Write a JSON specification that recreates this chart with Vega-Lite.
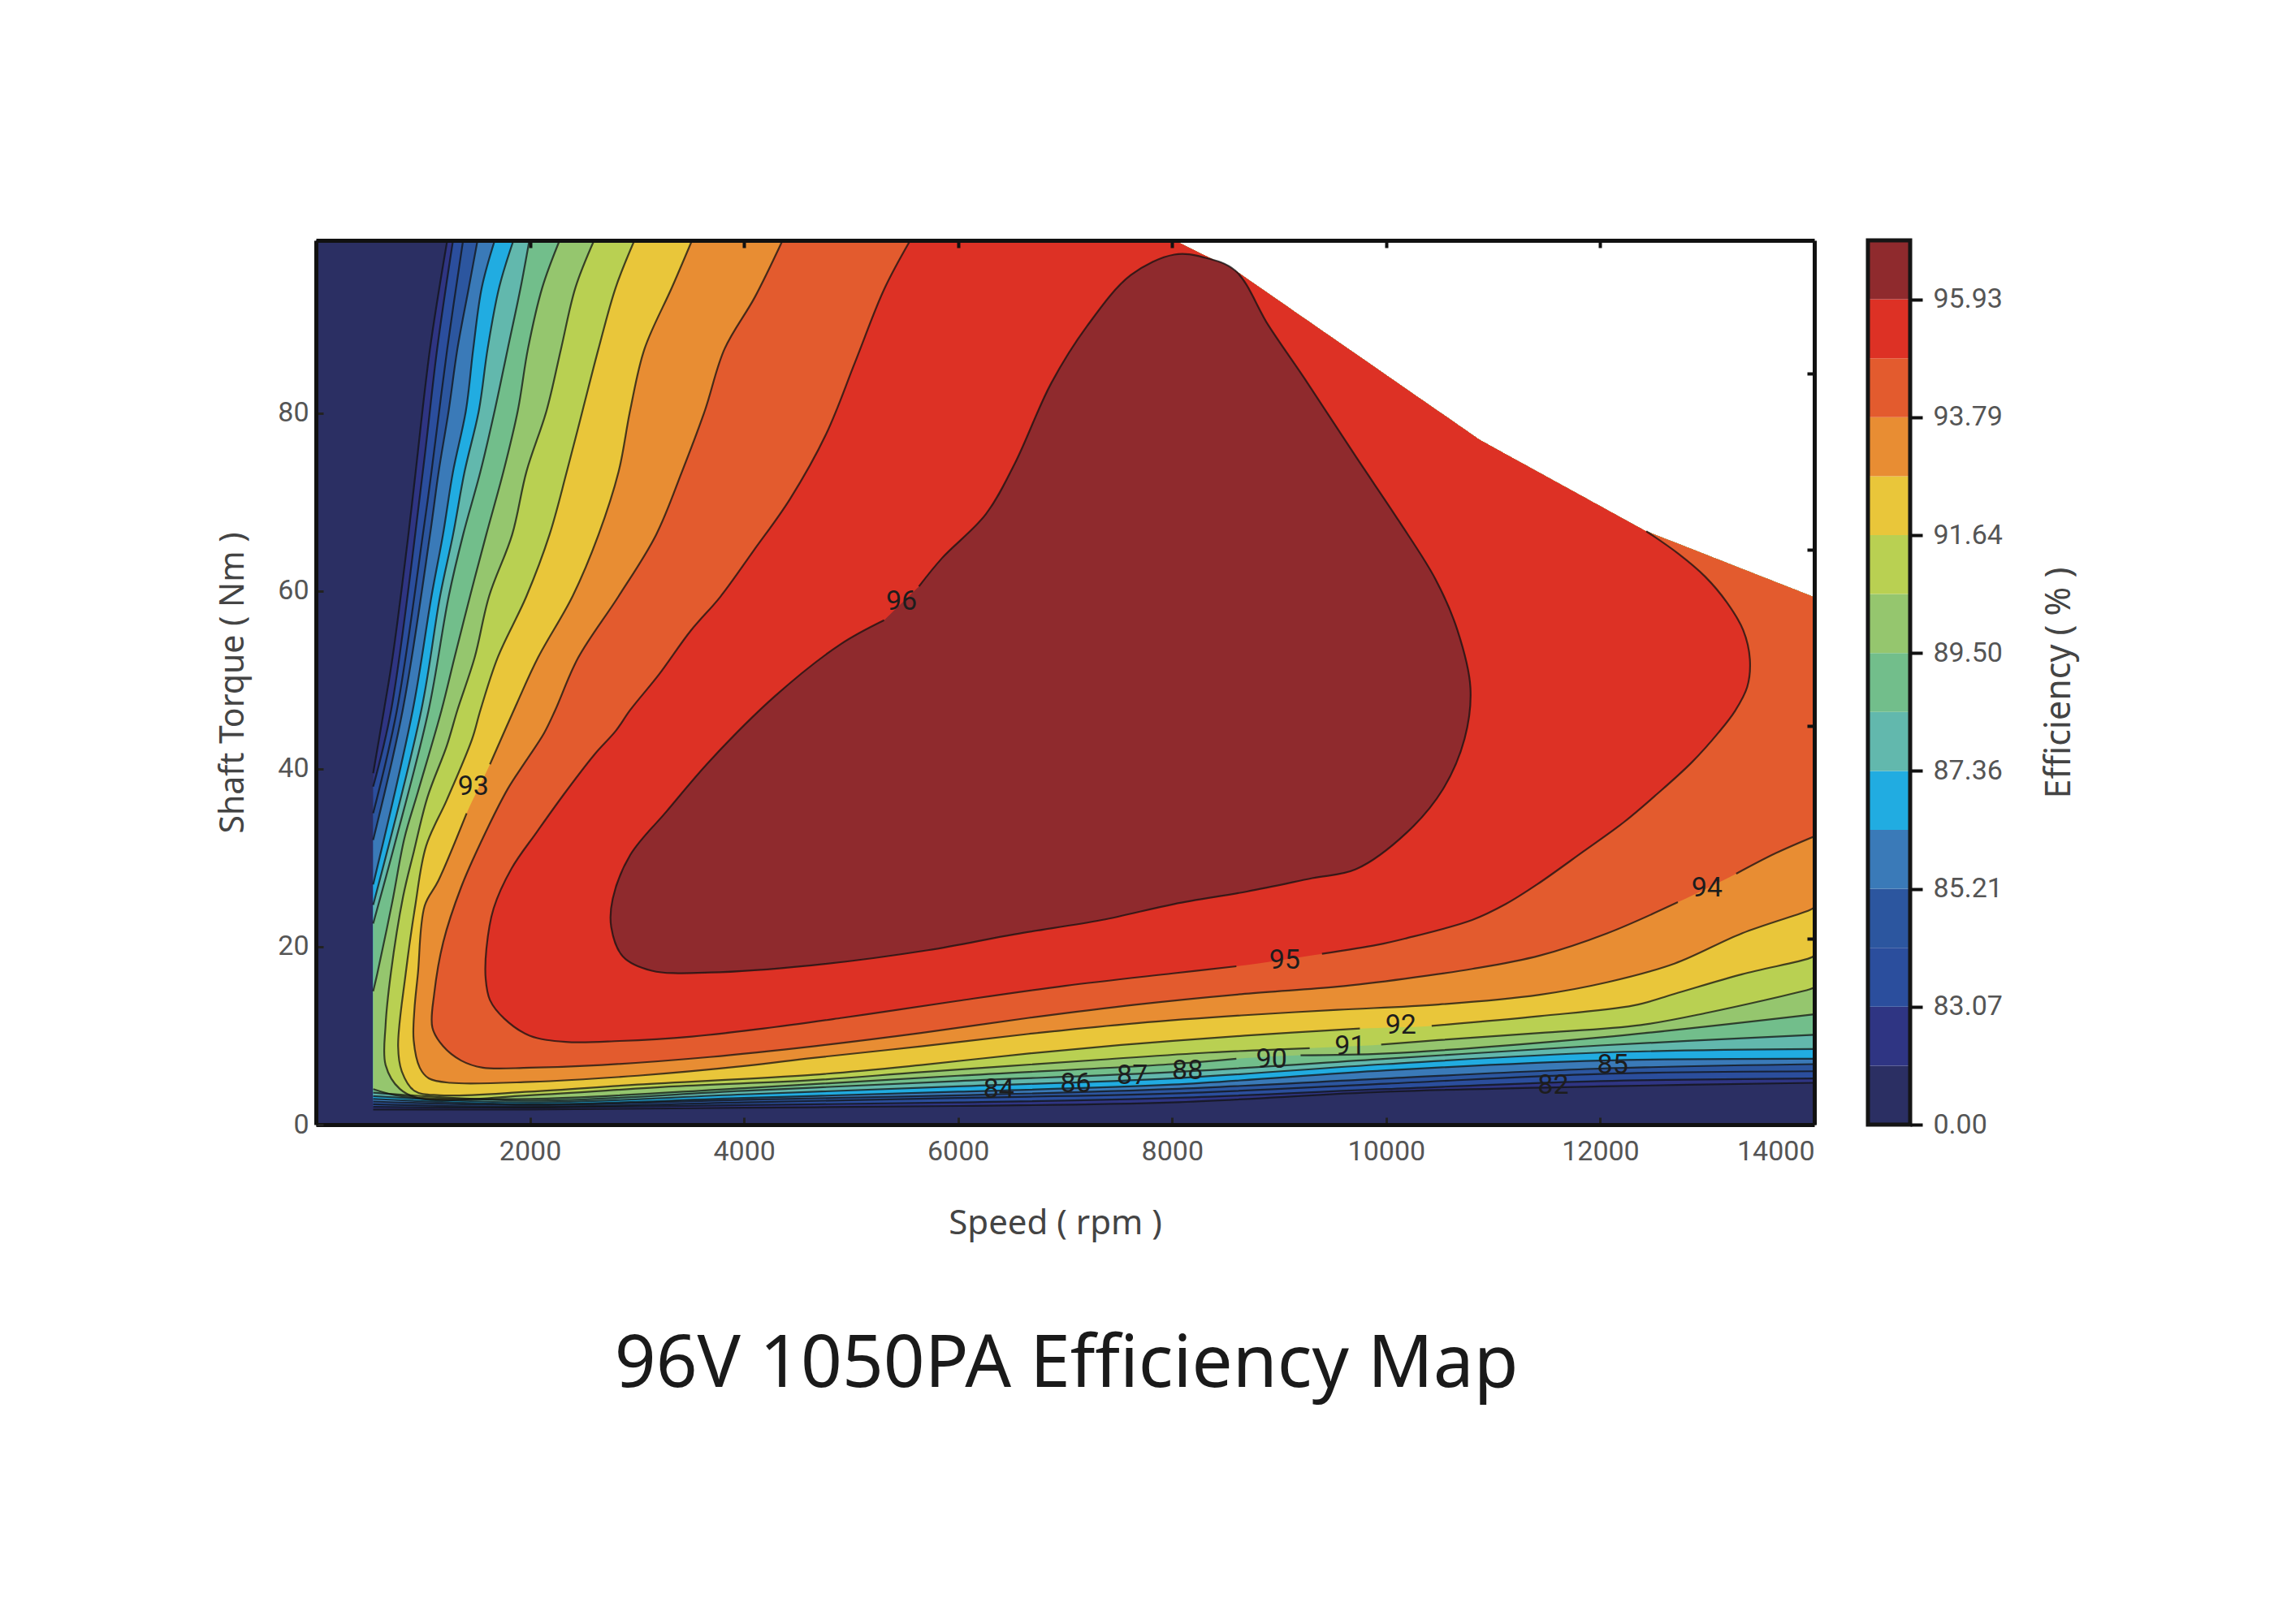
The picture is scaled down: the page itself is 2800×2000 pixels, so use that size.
{
  "$schema": "https://vega.github.io/schema/vega-lite/v6.json",
  "background": "white",
  "padding": {"left": 266, "top": 293, "right": 80, "bottom": 80},
  "config": {"view": {"stroke": null}},
  "title": {"text": "96V 1050PA Efficiency Map", "orient": "bottom", "anchor": "start", "dx": 490, "offset": 111, "font": "Noto Sans", "fontSize": 89, "fontWeight": "normal", "color": "#1a1a1a"},
  "datasets": {
    "contours": [
      {"level":80,"seg":"edge","n":1,"rpm":0,"nm":0},{"level":80,"seg":"edge","n":1.5,"rpm":0,"nm":0},{"level":80,"seg":"edge","n":2,"rpm":14000,"nm":0},{"level":80,"seg":"edge","n":2.5,"rpm":14000,"nm":0},{"level":80,"seg":"edge","n":3,"rpm":14000,"nm":59.3},{"level":80,"seg":"edge","n":3.5,"rpm":14000,"nm":59.3},{"level":80,"seg":"edge","n":4,"rpm":12430,"nm":66.7},{"level":80,"seg":"edge","n":4.5,"rpm":12430,"nm":66.7},{"level":80,"seg":"edge","n":5,"rpm":10870,"nm":77},{"level":80,"seg":"edge","n":5.5,"rpm":10870,"nm":77},{"level":80,"seg":"edge","n":6,"rpm":8590,"nm":96},{"level":80,"seg":"edge","n":6.5,"rpm":8590,"nm":96},{"level":80,"seg":"edge","n":7,"rpm":8020,"nm":99.4},{"level":80,"seg":"edge","n":7.5,"rpm":8020,"nm":99.4},{"level":80,"seg":"edge","n":8,"rpm":0,"nm":99.4},

      {"level":83,"seg":"a","n":1,"rpm":1227,"nm":99.4},{"level":83,"seg":"a","n":2,"rpm":1066,"nm":87.2},{"level":83,"seg":"a","n":3,"rpm":932,"nm":73.4},{"level":83,"seg":"a","n":4,"rpm":864,"nm":66.3},{"level":83,"seg":"a","n":5,"rpm":716,"nm":52.5},{"level":83,"seg":"a","n":6,"rpm":636,"nm":46.6},{"level":83,"seg":"a","n":7,"rpm":535,"nm":39.5},{"level":83,"seg":"a","n":7.5,"rpm":535,"nm":39.5},
      {"level":83,"seg":"b","n":8,"rpm":535,"nm":1.7},{"level":83,"seg":"b","n":8.5,"rpm":535,"nm":1.7},{"level":83,"seg":"b","n":9,"rpm":2000,"nm":1.7},{"level":83,"seg":"b","n":10,"rpm":4000,"nm":1.9},{"level":83,"seg":"b","n":11,"rpm":6000,"nm":2.1},{"level":83,"seg":"b","n":12,"rpm":8000,"nm":2.5},{"level":83,"seg":"b","n":13,"rpm":10000,"nm":3.7},{"level":83,"seg":"b","n":14,"rpm":12000,"nm":4.3},{"level":83,"seg":"b","n":15,"rpm":14000,"nm":4.7},{"level":83,"seg":"b","n":15.5,"rpm":14000,"nm":4.7},
      {"level":83,"seg":"edge","n":16,"rpm":14000,"nm":59.3},{"level":83,"seg":"edge","n":16.5,"rpm":14000,"nm":59.3},{"level":83,"seg":"edge","n":17,"rpm":12430,"nm":66.7},{"level":83,"seg":"edge","n":17.5,"rpm":12430,"nm":66.7},{"level":83,"seg":"edge","n":18,"rpm":10870,"nm":77},{"level":83,"seg":"edge","n":18.5,"rpm":10870,"nm":77},{"level":83,"seg":"edge","n":19,"rpm":8590,"nm":96},{"level":83,"seg":"edge","n":19.5,"rpm":8590,"nm":96},{"level":83,"seg":"edge","n":20,"rpm":8020,"nm":99.4},

      {"level":84,"seg":"a","n":1,"rpm":1281,"nm":99.4},{"level":84,"seg":"a","n":2,"rpm":1133,"nm":87.2},{"level":84,"seg":"a","n":3,"rpm":999,"nm":73.4},{"level":84,"seg":"a","n":4,"rpm":703,"nm":46.6},{"level":84,"seg":"a","n":5,"rpm":535,"nm":38},{"level":84,"seg":"a","n":5.5,"rpm":535,"nm":38},
      {"level":84,"seg":"b","n":6,"rpm":535,"nm":2},{"level":84,"seg":"b","n":6.5,"rpm":535,"nm":2},{"level":84,"seg":"b","n":7,"rpm":2000,"nm":1.9},{"level":84,"seg":"b","n":8,"rpm":4000,"nm":2.2},{"level":84,"seg":"b","n":9,"rpm":6000,"nm":2.5},{"level":84,"seg":"b","n":10,"rpm":8000,"nm":3},{"level":84,"seg":"b","n":11,"rpm":10000,"nm":4},{"level":84,"seg":"b","n":12,"rpm":12000,"nm":4.9},{"level":84,"seg":"b","n":13,"rpm":14000,"nm":5.2},{"level":84,"seg":"b","n":13.5,"rpm":14000,"nm":5.2},
      {"level":84,"seg":"edge","n":14,"rpm":14000,"nm":59.3},{"level":84,"seg":"edge","n":14.5,"rpm":14000,"nm":59.3},{"level":84,"seg":"edge","n":15,"rpm":12430,"nm":66.7},{"level":84,"seg":"edge","n":15.5,"rpm":12430,"nm":66.7},{"level":84,"seg":"edge","n":16,"rpm":10870,"nm":77},{"level":84,"seg":"edge","n":16.5,"rpm":10870,"nm":77},{"level":84,"seg":"edge","n":17,"rpm":8590,"nm":96},{"level":84,"seg":"edge","n":17.5,"rpm":8590,"nm":96},{"level":84,"seg":"edge","n":18,"rpm":8020,"nm":99.4},

      {"level":85,"seg":"a","n":1,"rpm":1375,"nm":99.4},{"level":85,"seg":"a","n":2,"rpm":1227,"nm":87.2},{"level":85,"seg":"a","n":3,"rpm":1080,"nm":73.4},{"level":85,"seg":"a","n":4,"rpm":999,"nm":66.3},{"level":85,"seg":"a","n":5,"rpm":757,"nm":46.6},{"level":85,"seg":"a","n":6,"rpm":535,"nm":35},{"level":85,"seg":"a","n":6.5,"rpm":535,"nm":35},
      {"level":85,"seg":"b","n":7,"rpm":535,"nm":2.3},{"level":85,"seg":"b","n":7.5,"rpm":535,"nm":2.3},{"level":85,"seg":"b","n":8,"rpm":2000,"nm":2},{"level":85,"seg":"b","n":9,"rpm":4000,"nm":2.5},{"level":85,"seg":"b","n":10,"rpm":6000,"nm":3},{"level":85,"seg":"b","n":11,"rpm":8000,"nm":3.5},{"level":85,"seg":"b","n":12,"rpm":10000,"nm":4.6},{"level":85,"seg":"b","n":13,"rpm":12000,"nm":5.7},{"level":85,"seg":"b","n":14,"rpm":14000,"nm":6},{"level":85,"seg":"b","n":14.5,"rpm":14000,"nm":6},
      {"level":85,"seg":"edge","n":15,"rpm":14000,"nm":59.3},{"level":85,"seg":"edge","n":15.5,"rpm":14000,"nm":59.3},{"level":85,"seg":"edge","n":16,"rpm":12430,"nm":66.7},{"level":85,"seg":"edge","n":16.5,"rpm":12430,"nm":66.7},{"level":85,"seg":"edge","n":17,"rpm":10870,"nm":77},{"level":85,"seg":"edge","n":17.5,"rpm":10870,"nm":77},{"level":85,"seg":"edge","n":18,"rpm":8590,"nm":96},{"level":85,"seg":"edge","n":18.5,"rpm":8590,"nm":96},{"level":85,"seg":"edge","n":19,"rpm":8020,"nm":99.4},

      {"level":86,"seg":"a","n":1,"rpm":1510,"nm":99.4},{"level":86,"seg":"a","n":2,"rpm":1429,"nm":94.1},{"level":86,"seg":"a","n":3,"rpm":1322,"nm":87.2},{"level":86,"seg":"a","n":4,"rpm":1241,"nm":80.3},{"level":86,"seg":"a","n":5,"rpm":1147,"nm":73.4},{"level":86,"seg":"a","n":6,"rpm":1066,"nm":66.3},{"level":86,"seg":"a","n":7,"rpm":811,"nm":46.6},{"level":86,"seg":"a","n":8,"rpm":535,"nm":32},{"level":86,"seg":"a","n":8.5,"rpm":535,"nm":32},
      {"level":86,"seg":"b","n":9,"rpm":535,"nm":2.6},{"level":86,"seg":"b","n":9.5,"rpm":535,"nm":2.6},{"level":86,"seg":"b","n":10,"rpm":2000,"nm":2.2},{"level":86,"seg":"b","n":11,"rpm":4000,"nm":2.8},{"level":86,"seg":"b","n":12,"rpm":6000,"nm":3.3},{"level":86,"seg":"b","n":13,"rpm":8000,"nm":4},{"level":86,"seg":"b","n":14,"rpm":10000,"nm":5.2},{"level":86,"seg":"b","n":15,"rpm":12000,"nm":6.3},{"level":86,"seg":"b","n":16,"rpm":14000,"nm":6.8},{"level":86,"seg":"b","n":16.5,"rpm":14000,"nm":6.8},
      {"level":86,"seg":"edge","n":17,"rpm":14000,"nm":59.3},{"level":86,"seg":"edge","n":17.5,"rpm":14000,"nm":59.3},{"level":86,"seg":"edge","n":18,"rpm":12430,"nm":66.7},{"level":86,"seg":"edge","n":18.5,"rpm":12430,"nm":66.7},{"level":86,"seg":"edge","n":19,"rpm":10870,"nm":77},{"level":86,"seg":"edge","n":19.5,"rpm":10870,"nm":77},{"level":86,"seg":"edge","n":20,"rpm":8590,"nm":96},{"level":86,"seg":"edge","n":20.5,"rpm":8590,"nm":96},{"level":86,"seg":"edge","n":21,"rpm":8020,"nm":99.4},

      {"level":87,"seg":"a","n":1,"rpm":1671,"nm":99.4},{"level":87,"seg":"a","n":2,"rpm":1550,"nm":94.1},{"level":87,"seg":"a","n":3,"rpm":1470,"nm":87.2},{"level":87,"seg":"a","n":4,"rpm":1402,"nm":80.3},{"level":87,"seg":"a","n":5,"rpm":1281,"nm":73.4},{"level":87,"seg":"a","n":6,"rpm":1187,"nm":66.3},{"level":87,"seg":"a","n":7,"rpm":1080,"nm":59.4},{"level":87,"seg":"a","n":8,"rpm":905,"nm":46.6},{"level":87,"seg":"a","n":9,"rpm":535,"nm":27},{"level":87,"seg":"a","n":9.5,"rpm":535,"nm":27},
      {"level":87,"seg":"b","n":10,"rpm":535,"nm":2.9},{"level":87,"seg":"b","n":10.5,"rpm":535,"nm":2.9},{"level":87,"seg":"b","n":11,"rpm":2000,"nm":2.3},{"level":87,"seg":"b","n":12,"rpm":4000,"nm":3},{"level":87,"seg":"b","n":13,"rpm":6000,"nm":3.7},{"level":87,"seg":"b","n":14,"rpm":8000,"nm":4.5},{"level":87,"seg":"b","n":15,"rpm":10000,"nm":6.1},{"level":87,"seg":"b","n":16,"rpm":12000,"nm":7.2},{"level":87,"seg":"b","n":17,"rpm":14000,"nm":7.4},{"level":87,"seg":"b","n":17.5,"rpm":14000,"nm":7.4},
      {"level":87,"seg":"edge","n":18,"rpm":14000,"nm":59.3},{"level":87,"seg":"edge","n":18.5,"rpm":14000,"nm":59.3},{"level":87,"seg":"edge","n":19,"rpm":12430,"nm":66.7},{"level":87,"seg":"edge","n":19.5,"rpm":12430,"nm":66.7},{"level":87,"seg":"edge","n":20,"rpm":10870,"nm":77},{"level":87,"seg":"edge","n":20.5,"rpm":10870,"nm":77},{"level":87,"seg":"edge","n":21,"rpm":8590,"nm":96},{"level":87,"seg":"edge","n":21.5,"rpm":8590,"nm":96},{"level":87,"seg":"edge","n":22,"rpm":8020,"nm":99.4},

      {"level":88,"seg":"a","n":1,"rpm":1846,"nm":99.4},{"level":88,"seg":"a","n":2,"rpm":1712,"nm":94.1},{"level":88,"seg":"a","n":3,"rpm":1604,"nm":87.2},{"level":88,"seg":"a","n":4,"rpm":1523,"nm":80.3},{"level":88,"seg":"a","n":5,"rpm":1389,"nm":73.4},{"level":88,"seg":"a","n":6,"rpm":1281,"nm":66.3},{"level":88,"seg":"a","n":7,"rpm":1160,"nm":59.4},{"level":88,"seg":"a","n":8,"rpm":985,"nm":46.6},{"level":88,"seg":"a","n":9,"rpm":535,"nm":24.7},{"level":88,"seg":"a","n":9.5,"rpm":535,"nm":24.7},
      {"level":88,"seg":"b","n":10,"rpm":535,"nm":3.2},{"level":88,"seg":"b","n":10.5,"rpm":535,"nm":3.2},{"level":88,"seg":"b","n":11,"rpm":2000,"nm":2.5},{"level":88,"seg":"b","n":12,"rpm":4000,"nm":3.4},{"level":88,"seg":"b","n":13,"rpm":6000,"nm":4.3},{"level":88,"seg":"b","n":14,"rpm":8000,"nm":5.2},{"level":88,"seg":"b","n":15,"rpm":10000,"nm":6.8},{"level":88,"seg":"b","n":16,"rpm":12000,"nm":8.1},{"level":88,"seg":"b","n":17,"rpm":14000,"nm":8.5},{"level":88,"seg":"b","n":17.5,"rpm":14000,"nm":8.5},
      {"level":88,"seg":"edge","n":18,"rpm":14000,"nm":59.3},{"level":88,"seg":"edge","n":18.5,"rpm":14000,"nm":59.3},{"level":88,"seg":"edge","n":19,"rpm":12430,"nm":66.7},{"level":88,"seg":"edge","n":19.5,"rpm":12430,"nm":66.7},{"level":88,"seg":"edge","n":20,"rpm":10870,"nm":77},{"level":88,"seg":"edge","n":20.5,"rpm":10870,"nm":77},{"level":88,"seg":"edge","n":21,"rpm":8590,"nm":96},{"level":88,"seg":"edge","n":21.5,"rpm":8590,"nm":96},{"level":88,"seg":"edge","n":22,"rpm":8020,"nm":99.4},

      {"level":89,"seg":"a","n":1,"rpm":1994,"nm":99.4},{"level":89,"seg":"a","n":2,"rpm":1913,"nm":94.1},{"level":89,"seg":"a","n":3,"rpm":1792,"nm":87.2},{"level":89,"seg":"a","n":4,"rpm":1671,"nm":80.3},{"level":89,"seg":"a","n":5,"rpm":1537,"nm":73.4},{"level":89,"seg":"a","n":6,"rpm":1375,"nm":66.3},{"level":89,"seg":"a","n":7,"rpm":1241,"nm":59.4},{"level":89,"seg":"a","n":8,"rpm":1053,"nm":46.6},{"level":89,"seg":"a","n":8.3,"rpm":738,"nm":31.6},{"level":89,"seg":"a","n":9,"rpm":535,"nm":22.6},{"level":89,"seg":"a","n":9.5,"rpm":535,"nm":22.6},
      {"level":89,"seg":"b","n":10,"rpm":535,"nm":3.6},{"level":89,"seg":"b","n":10.5,"rpm":535,"nm":3.6},{"level":89,"seg":"b","n":11,"rpm":2000,"nm":2.7},{"level":89,"seg":"b","n":12,"rpm":4000,"nm":3.8},{"level":89,"seg":"b","n":13,"rpm":6000,"nm":4.9},{"level":89,"seg":"b","n":14,"rpm":8000,"nm":5.9},{"level":89,"seg":"b","n":15,"rpm":10000,"nm":7.4},{"level":89,"seg":"b","n":16,"rpm":12000,"nm":8.9},{"level":89,"seg":"b","n":17,"rpm":14000,"nm":10.1},{"level":89,"seg":"b","n":17.5,"rpm":14000,"nm":10.1},
      {"level":89,"seg":"edge","n":18,"rpm":14000,"nm":59.3},{"level":89,"seg":"edge","n":18.5,"rpm":14000,"nm":59.3},{"level":89,"seg":"edge","n":19,"rpm":12430,"nm":66.7},{"level":89,"seg":"edge","n":19.5,"rpm":12430,"nm":66.7},{"level":89,"seg":"edge","n":20,"rpm":10870,"nm":77},{"level":89,"seg":"edge","n":20.5,"rpm":10870,"nm":77},{"level":89,"seg":"edge","n":21,"rpm":8590,"nm":96},{"level":89,"seg":"edge","n":21.5,"rpm":8590,"nm":96},{"level":89,"seg":"edge","n":22,"rpm":8020,"nm":99.4},

      {"level":90,"seg":"a","n":1,"rpm":2277,"nm":99.4},{"level":90,"seg":"a","n":2,"rpm":2115,"nm":94.1},{"level":90,"seg":"a","n":3,"rpm":1981,"nm":87.2},{"level":90,"seg":"a","n":4,"rpm":1887,"nm":80.3},{"level":90,"seg":"a","n":5,"rpm":1752,"nm":73.4},{"level":90,"seg":"a","n":6,"rpm":1591,"nm":66.3},{"level":90,"seg":"a","n":7,"rpm":1440,"nm":59.4},{"level":90,"seg":"a","n":8,"rpm":1295,"nm":52.5},{"level":90,"seg":"a","n":9,"rpm":1174,"nm":46.6},{"level":90,"seg":"a","n":9.2,"rpm":953,"nm":37.4},{"level":90,"seg":"a","n":9.4,"rpm":827,"nm":32.2},{"level":90,"seg":"a","n":9.6,"rpm":713,"nm":25},{"level":90,"seg":"a","n":10,"rpm":574,"nm":17},{"level":90,"seg":"a","n":11,"rpm":535,"nm":15},{"level":90,"seg":"a","n":11.5,"rpm":535,"nm":15},
      {"level":90,"seg":"b","n":12,"rpm":535,"nm":4},{"level":90,"seg":"b","n":12.5,"rpm":535,"nm":4},{"level":90,"seg":"b","n":13,"rpm":800,"nm":3.2},{"level":90,"seg":"b","n":14,"rpm":2000,"nm":2.9},{"level":90,"seg":"b","n":15,"rpm":4000,"nm":4.1},{"level":90,"seg":"b","n":16,"rpm":6000,"nm":5.5},{"level":90,"seg":"b","n":17,"rpm":8000,"nm":6.8},{"level":90,"seg":"b","n":18,"rpm":8600,"nm":7.4},
      {"level":90,"seg":"c","n":19,"rpm":9200,"nm":7.8},{"level":90,"seg":"c","n":20,"rpm":10000,"nm":8},{"level":90,"seg":"c","n":21,"rpm":12000,"nm":9.8},{"level":90,"seg":"c","n":22,"rpm":14000,"nm":12.4},{"level":90,"seg":"c","n":22.5,"rpm":14000,"nm":12.4},
      {"level":90,"seg":"edge","n":23,"rpm":14000,"nm":59.3},{"level":90,"seg":"edge","n":23.5,"rpm":14000,"nm":59.3},{"level":90,"seg":"edge","n":24,"rpm":12430,"nm":66.7},{"level":90,"seg":"edge","n":24.5,"rpm":12430,"nm":66.7},{"level":90,"seg":"edge","n":25,"rpm":10870,"nm":77},{"level":90,"seg":"edge","n":25.5,"rpm":10870,"nm":77},{"level":90,"seg":"edge","n":26,"rpm":8590,"nm":96},{"level":90,"seg":"edge","n":26.5,"rpm":8590,"nm":96},{"level":90,"seg":"edge","n":27,"rpm":8020,"nm":99.4},

      {"level":91,"seg":"a","n":1,"rpm":2599,"nm":99.4},{"level":91,"seg":"a","n":2,"rpm":2425,"nm":94.1},{"level":91,"seg":"a","n":3,"rpm":2290,"nm":87.2},{"level":91,"seg":"a","n":4,"rpm":2156,"nm":80.3},{"level":91,"seg":"a","n":5,"rpm":1967,"nm":73.4},{"level":91,"seg":"a","n":6,"rpm":1833,"nm":66.3},{"level":91,"seg":"a","n":7,"rpm":1618,"nm":59.4},{"level":91,"seg":"a","n":8,"rpm":1483,"nm":52.5},{"level":91,"seg":"a","n":9,"rpm":1322,"nm":46.6},{"level":91,"seg":"a","n":10,"rpm":1223,"nm":42.6},{"level":91,"seg":"a","n":11,"rpm":1042,"nm":36.8},{"level":91,"seg":"a","n":12,"rpm":915,"nm":30.7},{"level":91,"seg":"a","n":12.5,"rpm":814,"nm":25.6},{"level":91,"seg":"a","n":13,"rpm":700,"nm":17},{"level":91,"seg":"a","n":14,"rpm":651,"nm":11.2},{"level":91,"seg":"a","n":15,"rpm":651,"nm":6.7},{"level":91,"seg":"a","n":16,"rpm":785,"nm":4},{"level":91,"seg":"a","n":17,"rpm":987,"nm":2.9},{"level":91,"seg":"a","n":18,"rpm":1997,"nm":3.3},{"level":91,"seg":"a","n":19,"rpm":3343,"nm":4.3},{"level":91,"seg":"a","n":20,"rpm":4646,"nm":5},{"level":91,"seg":"a","n":21,"rpm":5654,"nm":5.9},{"level":91,"seg":"a","n":22,"rpm":7334,"nm":7.3},{"level":91,"seg":"a","n":23,"rpm":8343,"nm":8.1},{"level":91,"seg":"a","n":24,"rpm":9285,"nm":8.6},
      {"level":91,"seg":"b","n":25,"rpm":9953,"nm":9},{"level":91,"seg":"b","n":26,"rpm":10488,"nm":9.5},{"level":91,"seg":"b","n":27,"rpm":11433,"nm":10.3},{"level":91,"seg":"b","n":28,"rpm":12378,"nm":11.2},{"level":91,"seg":"b","n":29,"rpm":13008,"nm":12.6},{"level":91,"seg":"b","n":30,"rpm":13953,"nm":15.2},{"level":91,"seg":"b","n":31,"rpm":14000,"nm":15.4},{"level":91,"seg":"b","n":31.5,"rpm":14000,"nm":15.4},
      {"level":91,"seg":"edge","n":32,"rpm":14000,"nm":59.3},{"level":91,"seg":"edge","n":32.5,"rpm":14000,"nm":59.3},{"level":91,"seg":"edge","n":33,"rpm":12430,"nm":66.7},{"level":91,"seg":"edge","n":33.5,"rpm":12430,"nm":66.7},{"level":91,"seg":"edge","n":34,"rpm":10870,"nm":77},{"level":91,"seg":"edge","n":34.5,"rpm":10870,"nm":77},{"level":91,"seg":"edge","n":35,"rpm":8590,"nm":96},{"level":91,"seg":"edge","n":35.5,"rpm":8590,"nm":96},{"level":91,"seg":"edge","n":36,"rpm":8020,"nm":99.4},

      {"level":92,"seg":"a","n":1,"rpm":2976,"nm":99.4},{"level":92,"seg":"a","n":2,"rpm":2801,"nm":94.1},{"level":92,"seg":"a","n":3,"rpm":2640,"nm":87.2},{"level":92,"seg":"a","n":4,"rpm":2492,"nm":80.3},{"level":92,"seg":"a","n":5,"rpm":2344,"nm":73.4},{"level":92,"seg":"a","n":6,"rpm":2182,"nm":66.3},{"level":92,"seg":"a","n":7,"rpm":1967,"nm":59.4},{"level":92,"seg":"a","n":8,"rpm":1698,"nm":52.5},{"level":92,"seg":"a","n":9,"rpm":1537,"nm":46.6},{"level":92,"seg":"a","n":10,"rpm":1458,"nm":43.3},{"level":92,"seg":"a","n":11,"rpm":1223,"nm":36.5},{"level":92,"seg":"a","n":12,"rpm":1029,"nm":31.3},{"level":92,"seg":"a","n":13,"rpm":928,"nm":24.6},{"level":92,"seg":"a","n":14,"rpm":839,"nm":17},{"level":92,"seg":"a","n":15,"rpm":768,"nm":8.8},{"level":92,"seg":"a","n":16,"rpm":802,"nm":6},{"level":92,"seg":"a","n":17,"rpm":920,"nm":3.8},{"level":92,"seg":"a","n":18,"rpm":1155,"nm":3.3},{"level":92,"seg":"a","n":19,"rpm":1997,"nm":3.7},{"level":92,"seg":"a","n":20,"rpm":3006,"nm":4.5},{"level":92,"seg":"a","n":21,"rpm":4646,"nm":5.6},{"level":92,"seg":"a","n":22,"rpm":5654,"nm":6.7},{"level":92,"seg":"a","n":23,"rpm":6662,"nm":8},{"level":92,"seg":"a","n":24,"rpm":7670,"nm":9.1},{"level":92,"seg":"a","n":25,"rpm":8679,"nm":10},{"level":92,"seg":"a","n":26,"rpm":9754,"nm":10.8},
      {"level":92,"seg":"b","n":27,"rpm":10425,"nm":11.1},{"level":92,"seg":"b","n":28,"rpm":11433,"nm":12.2},{"level":92,"seg":"b","n":29,"rpm":12315,"nm":13.4},{"level":92,"seg":"b","n":30,"rpm":12693,"nm":14.7},{"level":92,"seg":"b","n":31,"rpm":13323,"nm":16.9},{"level":92,"seg":"b","n":32,"rpm":13953,"nm":18.7},{"level":92,"seg":"b","n":33,"rpm":14000,"nm":19},{"level":92,"seg":"b","n":33.5,"rpm":14000,"nm":19},
      {"level":92,"seg":"edge","n":34,"rpm":14000,"nm":59.3},{"level":92,"seg":"edge","n":34.5,"rpm":14000,"nm":59.3},{"level":92,"seg":"edge","n":35,"rpm":12430,"nm":66.7},{"level":92,"seg":"edge","n":35.5,"rpm":12430,"nm":66.7},{"level":92,"seg":"edge","n":36,"rpm":10870,"nm":77},{"level":92,"seg":"edge","n":36.5,"rpm":10870,"nm":77},{"level":92,"seg":"edge","n":37,"rpm":8590,"nm":96},{"level":92,"seg":"edge","n":37.5,"rpm":8590,"nm":96},{"level":92,"seg":"edge","n":38,"rpm":8020,"nm":99.4},

      {"level":93,"seg":"a","n":1,"rpm":3514,"nm":99.4},{"level":93,"seg":"a","n":2,"rpm":3326,"nm":94.1},{"level":93,"seg":"a","n":3,"rpm":3070,"nm":87.2},{"level":93,"seg":"a","n":4,"rpm":2936,"nm":80.3},{"level":93,"seg":"a","n":5,"rpm":2828,"nm":73.4},{"level":93,"seg":"a","n":6,"rpm":2640,"nm":66.3},{"level":93,"seg":"a","n":7,"rpm":2398,"nm":59.4},{"level":93,"seg":"a","n":8,"rpm":2075,"nm":52.5},{"level":93,"seg":"a","n":9,"rpm":1879,"nm":47.4},{"level":93,"seg":"a","n":10,"rpm":1626,"nm":40.5},
      {"level":93,"seg":"b","n":11,"rpm":1408,"nm":35},{"level":93,"seg":"b","n":12,"rpm":1143,"nm":27.4},{"level":93,"seg":"b","n":13,"rpm":1016,"nm":24.6},{"level":93,"seg":"b","n":14,"rpm":953,"nm":17},{"level":93,"seg":"b","n":15,"rpm":920,"nm":12.9},{"level":93,"seg":"b","n":16,"rpm":913,"nm":9.5},{"level":93,"seg":"b","n":17,"rpm":970,"nm":6.4},{"level":93,"seg":"b","n":18,"rpm":1054,"nm":5.2},{"level":93,"seg":"b","n":19,"rpm":1256,"nm":4.7},{"level":93,"seg":"b","n":20,"rpm":1997,"nm":4.8},{"level":93,"seg":"b","n":21,"rpm":3006,"nm":5.5},{"level":93,"seg":"b","n":22,"rpm":4015,"nm":6.6},{"level":93,"seg":"b","n":23,"rpm":4646,"nm":7.5},{"level":93,"seg":"b","n":24,"rpm":5654,"nm":8.8},{"level":93,"seg":"b","n":25,"rpm":6662,"nm":10.2},{"level":93,"seg":"b","n":26,"rpm":7670,"nm":11.4},{"level":93,"seg":"b","n":27,"rpm":8679,"nm":12.3},{"level":93,"seg":"b","n":28,"rpm":9543,"nm":12.9},{"level":93,"seg":"b","n":29,"rpm":10488,"nm":13.5},{"level":93,"seg":"b","n":30,"rpm":11433,"nm":14.6},{"level":93,"seg":"b","n":31,"rpm":12063,"nm":16},{"level":93,"seg":"b","n":32,"rpm":12693,"nm":18.1},{"level":93,"seg":"b","n":33,"rpm":13323,"nm":21.5},{"level":93,"seg":"b","n":34,"rpm":13953,"nm":24.1},{"level":93,"seg":"b","n":35,"rpm":14000,"nm":24.4},{"level":93,"seg":"b","n":35.5,"rpm":14000,"nm":24.4},
      {"level":93,"seg":"edge","n":36,"rpm":14000,"nm":59.3},{"level":93,"seg":"edge","n":36.5,"rpm":14000,"nm":59.3},{"level":93,"seg":"edge","n":37,"rpm":12430,"nm":66.7},{"level":93,"seg":"edge","n":37.5,"rpm":12430,"nm":66.7},{"level":93,"seg":"edge","n":38,"rpm":10870,"nm":77},{"level":93,"seg":"edge","n":38.5,"rpm":10870,"nm":77},{"level":93,"seg":"edge","n":39,"rpm":8590,"nm":96},{"level":93,"seg":"edge","n":39.5,"rpm":8590,"nm":96},{"level":93,"seg":"edge","n":40,"rpm":8020,"nm":99.4},

      {"level":94,"seg":"a","n":1,"rpm":4360,"nm":99.4},{"level":94,"seg":"a","n":2,"rpm":4100,"nm":93},{"level":94,"seg":"a","n":3,"rpm":3818,"nm":87.2},{"level":94,"seg":"a","n":4,"rpm":3635,"nm":80.3},{"level":94,"seg":"a","n":5,"rpm":3420,"nm":73.4},{"level":94,"seg":"a","n":6,"rpm":3178,"nm":66.3},{"level":94,"seg":"a","n":7,"rpm":2828,"nm":59.4},{"level":94,"seg":"a","n":8,"rpm":2451,"nm":52.5},{"level":94,"seg":"a","n":9,"rpm":2236,"nm":46.6},{"level":94,"seg":"a","n":10,"rpm":2131,"nm":44},{"level":94,"seg":"a","n":11,"rpm":1963,"nm":40.9},{"level":94,"seg":"a","n":12,"rpm":1795,"nm":37.8},{"level":94,"seg":"a","n":13,"rpm":1559,"nm":32.2},{"level":94,"seg":"a","n":14,"rpm":1357,"nm":26.7},{"level":94,"seg":"a","n":15,"rpm":1189,"nm":20.5},{"level":94,"seg":"a","n":16,"rpm":1105,"nm":14.7},{"level":94,"seg":"a","n":17,"rpm":1088,"nm":10.9},{"level":94,"seg":"a","n":18,"rpm":1189,"nm":8.8},{"level":94,"seg":"a","n":19,"rpm":1357,"nm":7.2},{"level":94,"seg":"a","n":20,"rpm":1559,"nm":6.4},{"level":94,"seg":"a","n":21,"rpm":1997,"nm":6.4},{"level":94,"seg":"a","n":22,"rpm":2670,"nm":6.7},{"level":94,"seg":"a","n":23,"rpm":3679,"nm":7.6},{"level":94,"seg":"a","n":24,"rpm":4646,"nm":8.8},{"level":94,"seg":"a","n":25,"rpm":5654,"nm":10.3},{"level":94,"seg":"a","n":26,"rpm":6662,"nm":12},{"level":94,"seg":"a","n":27,"rpm":7670,"nm":13.5},{"level":94,"seg":"a","n":28,"rpm":8679,"nm":14.7},{"level":94,"seg":"a","n":29,"rpm":9543,"nm":15.5},{"level":94,"seg":"a","n":30,"rpm":10173,"nm":16.4},{"level":94,"seg":"a","n":31,"rpm":10803,"nm":17.5},{"level":94,"seg":"a","n":32,"rpm":11433,"nm":19},{"level":94,"seg":"a","n":33,"rpm":12063,"nm":21.5},{"level":94,"seg":"a","n":34,"rpm":12725,"nm":25},
      {"level":94,"seg":"b","n":35,"rpm":13270,"nm":28.2},{"level":94,"seg":"b","n":36,"rpm":13638,"nm":30.5},{"level":94,"seg":"b","n":37,"rpm":14000,"nm":32.4},{"level":94,"seg":"b","n":37.5,"rpm":14000,"nm":32.4},
      {"level":94,"seg":"edge","n":38,"rpm":14000,"nm":59.3},{"level":94,"seg":"edge","n":38.5,"rpm":14000,"nm":59.3},{"level":94,"seg":"edge","n":39,"rpm":12430,"nm":66.7},{"level":94,"seg":"edge","n":39.5,"rpm":12430,"nm":66.7},{"level":94,"seg":"edge","n":40,"rpm":10870,"nm":77},{"level":94,"seg":"edge","n":40.5,"rpm":10870,"nm":77},{"level":94,"seg":"edge","n":41,"rpm":8590,"nm":96},{"level":94,"seg":"edge","n":41.5,"rpm":8590,"nm":96},{"level":94,"seg":"edge","n":42,"rpm":8020,"nm":99.4},

      {"level":95,"seg":"a","n":1,"rpm":5553,"nm":99.4},{"level":95,"seg":"a","n":2,"rpm":5309,"nm":93.9},{"level":95,"seg":"a","n":3,"rpm":5037,"nm":85.7},{"level":95,"seg":"a","n":4,"rpm":4766,"nm":77.6},{"level":95,"seg":"a","n":5,"rpm":4428,"nm":70.3},{"level":95,"seg":"a","n":6,"rpm":4088,"nm":64.5},{"level":95,"seg":"a","n":7,"rpm":3776,"nm":59.3},{"level":95,"seg":"a","n":8,"rpm":3500,"nm":55.5},{"level":95,"seg":"a","n":9,"rpm":3205,"nm":50.6},{"level":95,"seg":"a","n":10,"rpm":2936,"nm":46.6},{"level":95,"seg":"a","n":11,"rpm":2804,"nm":44.3},{"level":95,"seg":"a","n":12,"rpm":2602,"nm":41.6},{"level":95,"seg":"a","n":13,"rpm":2333,"nm":37.4},{"level":95,"seg":"a","n":14,"rpm":2064,"nm":32.9},{"level":95,"seg":"a","n":15,"rpm":1828,"nm":28.8},{"level":95,"seg":"a","n":16,"rpm":1660,"nm":24.3},{"level":95,"seg":"a","n":17,"rpm":1593,"nm":19.8},{"level":95,"seg":"a","n":18,"rpm":1586,"nm":16.4},{"level":95,"seg":"a","n":19,"rpm":1626,"nm":14},{"level":95,"seg":"a","n":20,"rpm":1761,"nm":11.9},{"level":95,"seg":"a","n":21,"rpm":1997,"nm":10},{"level":95,"seg":"a","n":22,"rpm":2333,"nm":9.3},{"level":95,"seg":"a","n":23,"rpm":2838,"nm":9.4},{"level":95,"seg":"a","n":24,"rpm":3511,"nm":9.9},{"level":95,"seg":"a","n":25,"rpm":4184,"nm":10.8},{"level":95,"seg":"a","n":26,"rpm":4917,"nm":12},{"level":95,"seg":"a","n":27,"rpm":5318,"nm":12.7},{"level":95,"seg":"a","n":28,"rpm":5990,"nm":13.9},{"level":95,"seg":"a","n":29,"rpm":6998,"nm":15.6},{"level":95,"seg":"a","n":30,"rpm":8007,"nm":17},{"level":95,"seg":"a","n":31,"rpm":8600,"nm":17.8},
      {"level":95,"seg":"b","n":32,"rpm":9400,"nm":19.2},{"level":95,"seg":"b","n":33,"rpm":9916,"nm":20.2},{"level":95,"seg":"b","n":34,"rpm":10173,"nm":20.9},{"level":95,"seg":"b","n":35,"rpm":10803,"nm":23},{"level":95,"seg":"b","n":36,"rpm":11118,"nm":24.8},{"level":95,"seg":"b","n":37,"rpm":11410,"nm":27},{"level":95,"seg":"b","n":38,"rpm":11842,"nm":30.7},{"level":95,"seg":"b","n":39,"rpm":12221,"nm":34},{"level":95,"seg":"b","n":40,"rpm":12525,"nm":37.1},{"level":95,"seg":"b","n":41,"rpm":12853,"nm":40.7},{"level":95,"seg":"b","n":42,"rpm":13107,"nm":44.1},{"level":95,"seg":"b","n":43,"rpm":13259,"nm":46.5},{"level":95,"seg":"b","n":44,"rpm":13373,"nm":49.2},{"level":95,"seg":"b","n":45,"rpm":13398,"nm":52.3},{"level":95,"seg":"b","n":46,"rpm":13335,"nm":55.6},{"level":95,"seg":"b","n":47,"rpm":13183,"nm":58.7},{"level":95,"seg":"b","n":48,"rpm":12980,"nm":61.6},{"level":95,"seg":"b","n":49,"rpm":12727,"nm":64.2},{"level":95,"seg":"b","n":50,"rpm":12430,"nm":66.7},{"level":95,"seg":"b","n":50.5,"rpm":12430,"nm":66.7},
      {"level":95,"seg":"edge","n":51,"rpm":10870,"nm":77},{"level":95,"seg":"edge","n":51.5,"rpm":10870,"nm":77},{"level":95,"seg":"edge","n":52,"rpm":8590,"nm":96},{"level":95,"seg":"edge","n":52.5,"rpm":8590,"nm":96},{"level":95,"seg":"edge","n":53,"rpm":8020,"nm":99.4},

      {"level":96,"seg":"a","n":1,"rpm":5634,"nm":60.5},{"level":96,"seg":"a","n":2,"rpm":5851,"nm":63.7},{"level":96,"seg":"a","n":3,"rpm":6258,"nm":68.6},{"level":96,"seg":"a","n":4,"rpm":6529,"nm":74.3},{"level":96,"seg":"a","n":5,"rpm":6868,"nm":83.3},{"level":96,"seg":"a","n":6,"rpm":7207,"nm":89.8},{"level":96,"seg":"a","n":7,"rpm":7614,"nm":95.5},{"level":96,"seg":"a","n":8,"rpm":8020,"nm":97.8},{"level":96,"seg":"a","n":9,"rpm":8292,"nm":97.5},{"level":96,"seg":"a","n":10,"rpm":8590,"nm":96},{"level":96,"seg":"a","n":11,"rpm":8902,"nm":89.8},{"level":96,"seg":"a","n":12,"rpm":9241,"nm":83.8},{"level":96,"seg":"a","n":13,"rpm":9716,"nm":75.1},{"level":96,"seg":"a","n":14,"rpm":10122,"nm":67.8},{"level":96,"seg":"a","n":15,"rpm":10461,"nm":61.3},{"level":96,"seg":"a","n":16,"rpm":10665,"nm":55.6},{"level":96,"seg":"a","n":17,"rpm":10787,"nm":49.1},{"level":96,"seg":"a","n":18,"rpm":10733,"nm":43.4},{"level":96,"seg":"a","n":19,"rpm":10530,"nm":37.7},{"level":96,"seg":"a","n":20,"rpm":10190,"nm":32.8},{"level":96,"seg":"a","n":21,"rpm":9716,"nm":28.7},{"level":96,"seg":"a","n":22,"rpm":9309,"nm":27.7},{"level":96,"seg":"a","n":23,"rpm":8699,"nm":26.2},{"level":96,"seg":"a","n":24,"rpm":8020,"nm":24.8},{"level":96,"seg":"a","n":25,"rpm":7343,"nm":23},{"level":96,"seg":"a","n":26,"rpm":6529,"nm":21.4},{"level":96,"seg":"a","n":27,"rpm":5716,"nm":19.6},{"level":96,"seg":"a","n":28,"rpm":4631,"nm":17.9},{"level":96,"seg":"a","n":29,"rpm":3681,"nm":17.1},{"level":96,"seg":"a","n":30,"rpm":3139,"nm":17.3},{"level":96,"seg":"a","n":31,"rpm":2868,"nm":18.9},{"level":96,"seg":"a","n":32,"rpm":2759,"nm":22.2},{"level":96,"seg":"a","n":33,"rpm":2773,"nm":25.4},{"level":96,"seg":"a","n":34,"rpm":2936,"nm":30.3},{"level":96,"seg":"a","n":35,"rpm":3275,"nm":35.2},{"level":96,"seg":"a","n":36,"rpm":3681,"nm":40.9},{"level":96,"seg":"a","n":37,"rpm":4292,"nm":48.2},{"level":96,"seg":"a","n":38,"rpm":4902,"nm":54},{"level":96,"seg":"a","n":39,"rpm":5309,"nm":56.7}
    ],
    "labels": [
      {"text":"82","rpm":11560,"nm":4.4},{"text":"84","rpm":6380,"nm":3.9},{"text":"85","rpm":12116,"nm":6.7},{"text":"86","rpm":7099,"nm":4.6},{"text":"87","rpm":7627,"nm":5.5},{"text":"88","rpm":8143,"nm":6},{"text":"90","rpm":8929,"nm":7.3},{"text":"91","rpm":9662,"nm":8.8},{"text":"92","rpm":10136,"nm":11.1},{"text":"93","rpm":1471,"nm":38},{"text":"94","rpm":12997,"nm":26.6},{"text":"95","rpm":9051,"nm":18.4},{"text":"96","rpm":5471,"nm":58.8}
    ],
    "bands": [
      {"lo":0,"hi":1,"level":80},{"lo":1,"hi":2,"level":83},{"lo":2,"hi":3,"level":84},{"lo":3,"hi":4,"level":85},{"lo":4,"hi":5,"level":86},{"lo":5,"hi":6,"level":87},{"lo":6,"hi":7,"level":88},{"lo":7,"hi":8,"level":89},{"lo":8,"hi":9,"level":90},{"lo":9,"hi":10,"level":91},{"lo":10,"hi":11,"level":92},{"lo":11,"hi":12,"level":93},{"lo":12,"hi":13,"level":94},{"lo":13,"hi":14,"level":95},{"lo":14,"hi":15,"level":96}
    ]
  },
  "hconcat": [
    {
      "width": 1845,
      "height": 1089,
      "layer": [
        {
          "data": {"name": "contours"},
          "mark": {"type": "line", "filled": true, "interpolate": "catmull-rom", "strokeWidth": 0, "clip": true},
          "encoding": {
            "x": {"field": "rpm", "type": "quantitative", "scale": {"domain": [0, 14000], "nice": false},
              "axis": {"orient": "bottom", "title": "Speed ( rpm )", "titleX": 910, "values": [2000, 4000, 6000, 8000, 10000, 12000, 14000], "format": "d", "grid": false, "zindex": 1, "domainColor": "#111", "domainWidth": 5, "tickColor": "#222", "tickWidth": 3, "tickSize": -9, "labelFont": "Roboto", "labelFontSize": 34, "labelColor": "#555", "labelPadding": 25, "titleFont": "Noto Sans", "titleFontSize": 42, "titleFontWeight": "normal", "titleColor": "#444", "titlePadding": 51}},
            "y": {"field": "nm", "type": "quantitative", "scale": {"domain": [0, 99.4], "nice": false},
              "axis": {"orient": "left", "title": "Shaft Torque ( Nm )", "values": [0, 20, 40, 60, 80], "grid": false, "zindex": 1, "domainColor": "#111", "domainWidth": 5, "tickColor": "#222", "tickWidth": 3, "tickSize": -9, "labelFont": "Roboto", "labelFontSize": 34, "labelColor": "#555", "labelPadding": 18, "titleFont": "Noto Sans", "titleFontSize": 41, "titleFontWeight": "normal", "titleColor": "#444", "titlePadding": 33}},
            "order": {"field": "n", "type": "quantitative"},
            "detail": {"field": "level"},
            "color": {"field": "level", "type": "ordinal", "legend": null,
              "scale": {"domain": [80, 83, 84, 85, 86, 87, 88, 89, 90, 91, 92, 93, 94, 95, 96],
                "range": ["#2B2F63", "#2F3583", "#2B4E9D", "#2C569F", "#3A7AB8", "#21ACE1", "#62B8AD", "#72BE8B", "#95C66E", "#B9D052", "#E9C63A", "#E88D33", "#E35B2E", "#DD3125", "#8F2A2D"]}}
          }
        },
        {
          "data": {"name": "contours"},
          "transform": [{"filter": "datum.seg != 'edge'"}],
          "mark": {"type": "line", "color": "#111", "opacity": 0.75, "strokeWidth": 2.2, "interpolate": "catmull-rom", "clip": true},
          "encoding": {
            "x": {"field": "rpm", "type": "quantitative", "scale": {"domain": [0, 14000], "nice": false},
              "axis": {"orient": "top", "title": null, "values": [2000, 4000, 6000, 8000, 10000, 12000], "labels": false, "grid": false, "zindex": 1, "domainColor": "#111", "domainWidth": 5, "tickColor": "#111", "tickWidth": 4, "tickSize": -9}},
            "y": {"field": "nm", "type": "quantitative", "scale": {"domain": [0, 99.4], "nice": false},
              "axis": {"orient": "right", "title": null, "values": [20.9, 44.8, 64.6, 84.4], "labels": false, "grid": false, "zindex": 1, "domainColor": "#111", "domainWidth": 5, "tickColor": "#111", "tickWidth": 4, "tickSize": -9}},
            "order": {"field": "n", "type": "quantitative"},
            "detail": [{"field": "level"}, {"field": "seg"}]
          }
        },
        {
          "data": {"name": "labels"},
          "mark": {"type": "text", "font": "Roboto", "fontSize": 34, "color": "#1d1d1d"},
          "encoding": {
            "x": {"field": "rpm", "type": "quantitative", "scale": {"domain": [0, 14000], "nice": false}, "axis": null},
            "y": {"field": "nm", "type": "quantitative", "scale": {"domain": [0, 99.4], "nice": false}, "axis": null},
            "text": {"field": "text"}
          }
        }
      ],
      "resolve": {"axis": {"x": "independent", "y": "independent"}}
    },
    {
      "width": 52,
      "height": 1089,
      "layer": [
        {
          "data": {"name": "bands"},
          "mark": {"type": "rect"},
          "encoding": {
            "y": {"field": "lo", "type": "quantitative", "scale": {"domain": [0, 15], "nice": false},
              "axis": {"orient": "right", "title": "Efficiency ( % )", "values": [0, 2, 4, 6, 8, 10, 12, 14], "labelExpr": "{'0':'0.00','2':'83.07','4':'85.21','6':'87.36','8':'89.50','10':'91.64','12':'93.79','14':'95.93'}[datum.value]", "grid": false, "domain": false, "zindex": 1, "tickColor": "#111", "tickWidth": 4, "tickSize": 15, "labelFont": "Roboto", "labelFontSize": 34, "labelColor": "#555", "labelPadding": 13, "titleFont": "Noto Sans", "titleFontSize": 43, "titleFontWeight": "normal", "titleColor": "#444", "titleAngle": 270, "titlePadding": 92}},
            "y2": {"field": "hi"},
            "color": {"field": "level", "type": "ordinal", "legend": null,
              "scale": {"domain": [80, 83, 84, 85, 86, 87, 88, 89, 90, 91, 92, 93, 94, 95, 96],
                "range": ["#2B2F63", "#2F3583", "#2B4E9D", "#2C569F", "#3A7AB8", "#21ACE1", "#62B8AD", "#72BE8B", "#95C66E", "#B9D052", "#E9C63A", "#E88D33", "#E35B2E", "#DD3125", "#8F2A2D"]}}
          }
        },
        {
          "data": {"values": [{"lo": 0, "hi": 15}]},
          "mark": {"type": "rect", "filled": false, "stroke": "#151515", "strokeWidth": 5},
          "encoding": {
            "y": {"field": "lo", "type": "quantitative", "scale": {"domain": [0, 15], "nice": false}, "axis": null},
            "y2": {"field": "hi"}
          }
        }
      ],
      "resolve": {"axis": {"y": "independent"}}
    }
  ],
  "spacing": 61
}
